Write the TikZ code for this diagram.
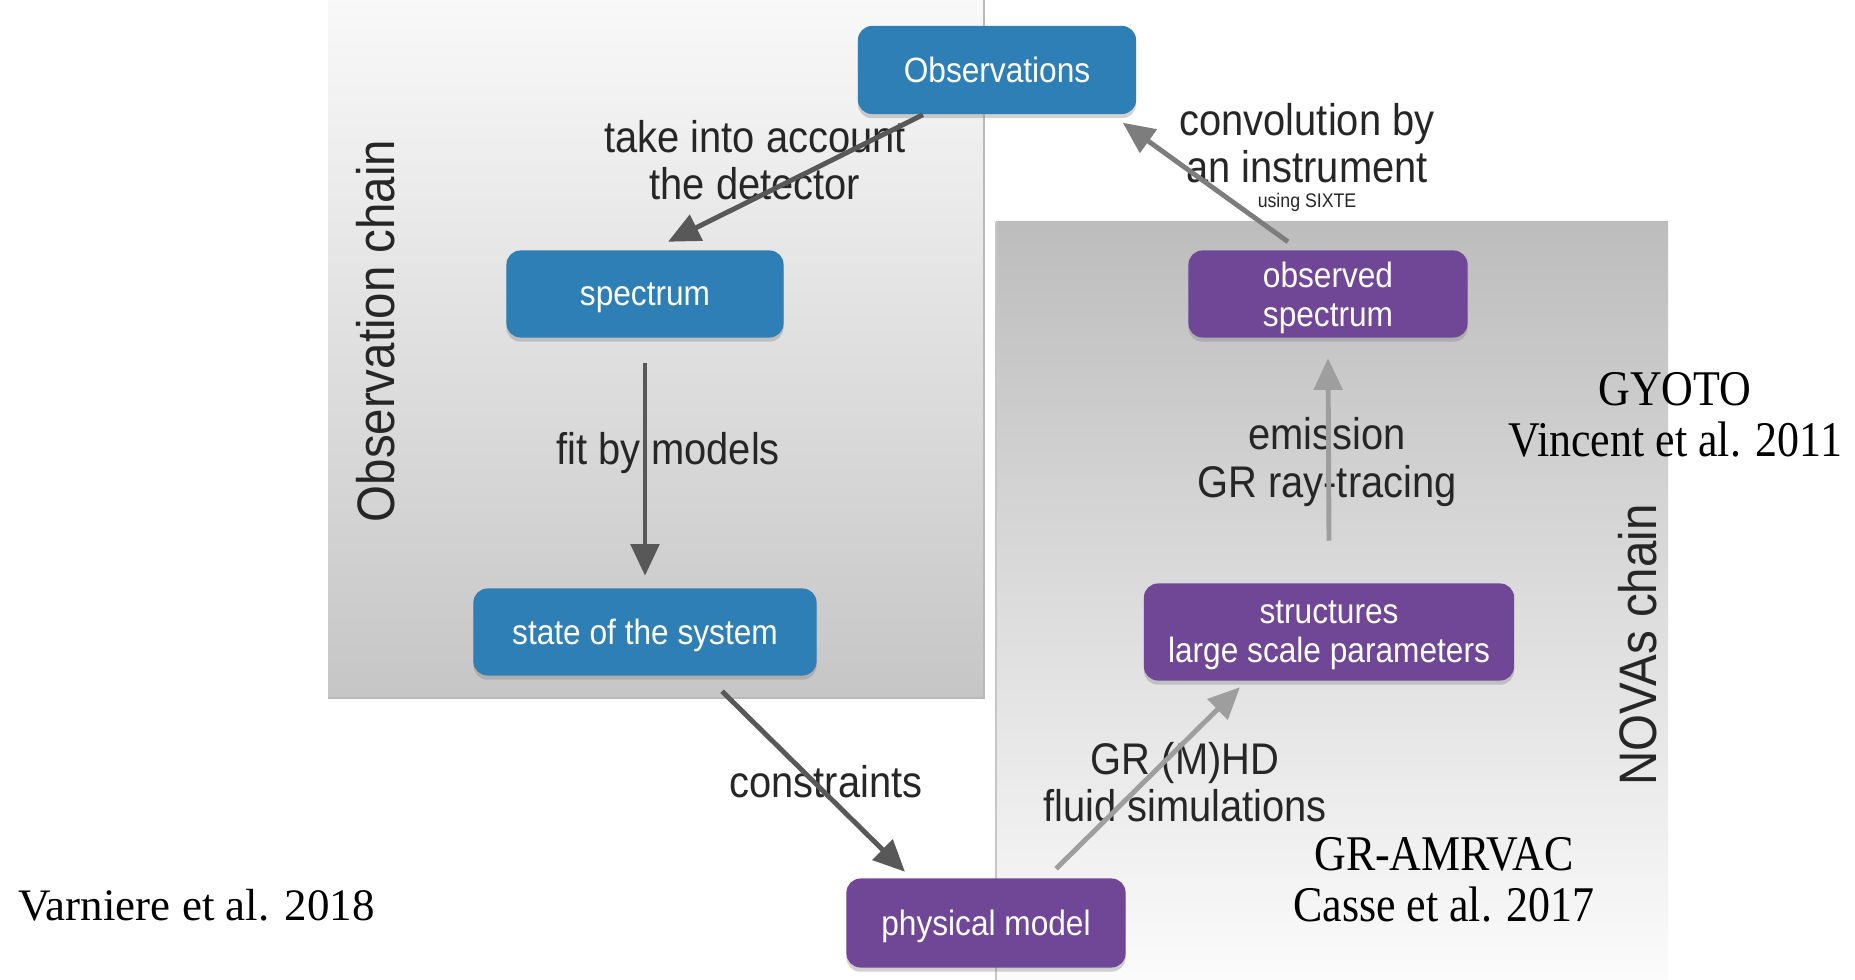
\documentclass[tikz,border=0pt]{standalone}
\usepackage{fontspec}
\setmainfont{Liberation Serif}
\newfontfamily\slidefont{Liberation Sans}[FakeStretch=0.9]
\newfontfamily\narrowserif{Liberation Serif}[FakeStretch=0.88]
\usetikzlibrary{arrows.meta}
\usetikzlibrary{shadows}

\definecolor{chainblue}{RGB}{46,127,181}
\definecolor{chainpurple}{RGB}{111,71,150}
\definecolor{chalkdark}{RGB}{88,88,88}
\definecolor{chalkmid}{RGB}{125,125,125}
\definecolor{chalklight}{RGB}{158,158,158}

\tikzset{
	every node/.style = {font=\slidefont}
}
\tikzset{
	chainbox/.style = {rounded corners=4pt, text=white, align=center, inner sep=0pt, text depth=0pt,
		font={\slidefont\fontsize{10}{11.1}\selectfont},
		drop shadow={opacity=.35, shadow xshift=0pt, shadow yshift=-1.2pt}},
	bluebox/.style = {chainbox, fill=chainblue},
	purplebox/.style = {chainbox, fill=chainpurple},
	steplabel/.style = {align=center, text=black!85, font={\slidefont\fontsize{12.6}{13.4}\selectfont}},
	chainlabel/.style = {rotate=90, text=black!85, font={\slidefont\fontsize{15}{16}\selectfont}},
	reflabel/.style = {align=center, font={\narrowserif\fontsize{14.2}{14.5}\selectfont}},
	chalk/.style = {line width=1.4pt, -{Triangle[length=9pt, width=8pt]}}
}

\begin{document}
\begin{tikzpicture}[x=0.01cm, y=-0.01cm]
	% one unit = one pixel of the 1855 x 980 slide, origin top left
	\useasboundingbox (0,0) rectangle (1855,980);
	\fill[white] (0,0) rectangle (1855,980);

	% the two chain panels
	\shade[top color=gray!5, bottom color=gray!45] (328,0) rectangle (984,698);
	\draw[gray!55, line width=.6pt] (328,698) -- (984,698) -- (984,0);
	\shade[top color=gray!52, bottom color=gray!3] (996,222) rectangle (1668,980);
	\draw[gray!45, line width=.4pt] (996,980) -- (996,222);

	% Observation chain
	\node[bluebox, minimum width=2.78cm, minimum height=.88cm] (obs) at (997,70) {Observations};
	\node[bluebox, minimum width=2.77cm, minimum height=.87cm] (spec) at (645,294) {spectrum};
	\node[bluebox, minimum width=3.43cm, minimum height=.87cm] (state) at (645,632) {state of the system};

	% NOVAs chain
	\node[purplebox, minimum width=2.79cm, minimum height=.89cm] (phys) at (986,923) {physical model};
	\node[purplebox, minimum width=3.70cm, minimum height=.97cm] (struct) at (1329,632) {structures\\large scale parameters};
	\node[purplebox, minimum width=2.79cm, minimum height=.87cm] (obsspec) at (1328,294) {observed\\spectrum};

	% step labels
	\node[steplabel] (detlab) at (755,160) {take into account\\the detector};
	\node[steplabel] (fitlab) at (668,453) {fit by models};
	\node[steplabel] (conslab) at (826,782) {constraints};
	\node[steplabel] (hdlab) at (1185,782) {GR (M)HD\\fluid simulations};
	\node[steplabel] (emlab) at (1327,462) {emission\\GR ray-tracing};
	\node[steplabel] (convlab) at (1307,143) {convolution by\\an instrument};
	\node[font={\slidefont\fontsize{5.6}{6}\selectfont}, text=black!85] (sixte) at (1307,202) {using SIXTE};

	\node[chainlabel] (obschain) at (376,331) {Observation chain};
	\node[chainlabel] (novaschain) at (1638,645) {NOVAs chain};

	% codes and references
	\node[reflabel] (gyoto) at (1675,415) {GYOTO\\Vincent et al. 2011};
	\node[reflabel] (amrvac) at (1444,880) {GR-AMRVAC\\Casse et al. 2017};
	\node[anchor=west, font={\fontsize{12.8}{14}\selectfont}] (varn) at (6,905) {Varniere et al. 2018};

	% chalk arrows, drawn over the labels
	\draw[chalk, chalkdark] ([xshift=-.74cm]obs.south) -- ([xshift=.23cm, yshift=.08cm]spec.north);
	\draw[chalk, chalkdark] ([yshift=-.25cm]spec.south) -- ([yshift=.12cm]state.north);
	\draw[chalk, chalkdark] ([xshift=.77cm, yshift=-.15cm]state.south) -- ([xshift=-.81cm, yshift=.06cm]phys.north);
	\draw[chalk, chalklight] ([xshift=.70cm, yshift=.09cm]phys.north) -- ([xshift=-.89cm, yshift=-.06cm]struct.south);
	\draw[chalk, chalklight] ([yshift=.42cm]struct.north) -- ([yshift=-.20cm]obsspec.south);
	\draw[chalk, chalkmid] ([xshift=-.40cm, yshift=.08cm]obsspec.north) -- ([xshift=-.14cm, yshift=-.08cm]obs.south east);
\end{tikzpicture}
\end{document}
